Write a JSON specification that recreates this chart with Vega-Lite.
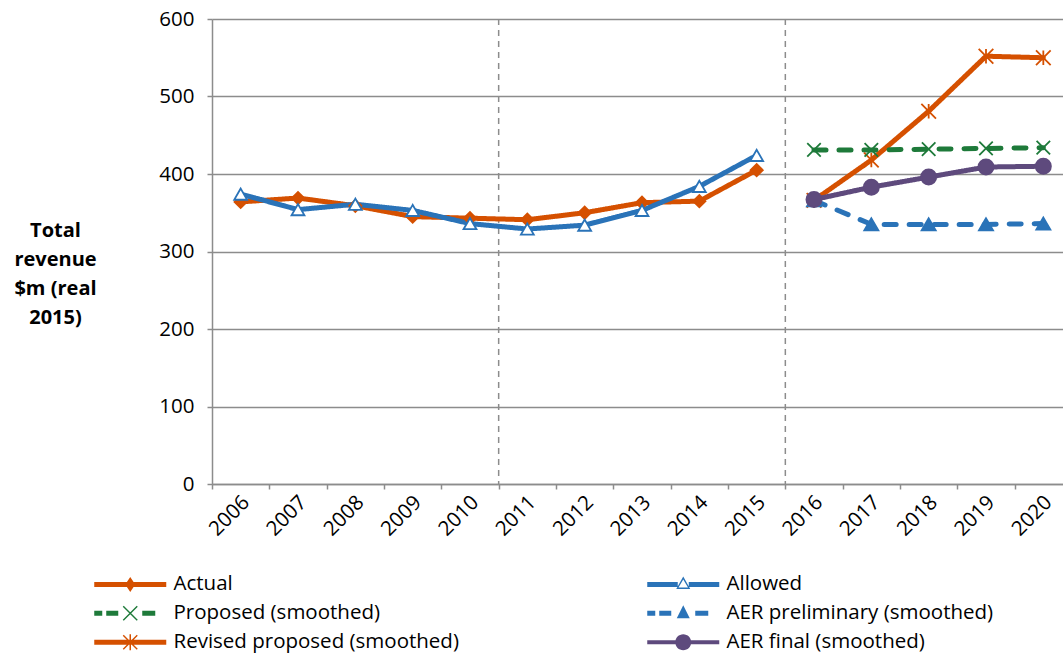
{
  "$schema": "https://vega.github.io/schema/vega-lite/v6.json",
  "width": 851,
  "height": 465,
  "autosize": "none",
  "padding": {"left": 212, "top": 19, "right": 0, "bottom": 171},
  "background": "white",
  "config": {
    "view": {"stroke": null},
    "font": "Open Sans",
    "axis": {"labelFont": "Open Sans", "labelFontSize": 20.5, "labelColor": "#000", "domainColor": "#8c8c8c", "domainWidth": 1.5, "tickColor": "#8c8c8c", "tickWidth": 1.5, "tickSize": 5},
    "legend": {"labelFont": "Open Sans", "labelFontSize": 20.5, "labelColor": "#000"}
  },
  "data": {"values": [
    {"year": "2006", "series": "Actual", "value": 364},
    {"year": "2007", "series": "Actual", "value": 369},
    {"year": "2008", "series": "Actual", "value": 359},
    {"year": "2009", "series": "Actual", "value": 345},
    {"year": "2010", "series": "Actual", "value": 343},
    {"year": "2011", "series": "Actual", "value": 341},
    {"year": "2012", "series": "Actual", "value": 350},
    {"year": "2013", "series": "Actual", "value": 363},
    {"year": "2014", "series": "Actual", "value": 365},
    {"year": "2015", "series": "Actual", "value": 405},
    {"year": "2006", "series": "Allowed", "value": 374},
    {"year": "2007", "series": "Allowed", "value": 354},
    {"year": "2008", "series": "Allowed", "value": 361},
    {"year": "2009", "series": "Allowed", "value": 353},
    {"year": "2010", "series": "Allowed", "value": 336},
    {"year": "2011", "series": "Allowed", "value": 329},
    {"year": "2012", "series": "Allowed", "value": 334},
    {"year": "2013", "series": "Allowed", "value": 353},
    {"year": "2014", "series": "Allowed", "value": 384},
    {"year": "2015", "series": "Allowed", "value": 424},
    {"year": "2016", "series": "Revised proposed (smoothed)", "value": 366},
    {"year": "2017", "series": "Revised proposed (smoothed)", "value": 418},
    {"year": "2018", "series": "Revised proposed (smoothed)", "value": 481},
    {"year": "2019", "series": "Revised proposed (smoothed)", "value": 552},
    {"year": "2020", "series": "Revised proposed (smoothed)", "value": 550},
    {"year": "2016", "series": "Proposed (smoothed)", "value": 431},
    {"year": "2017", "series": "Proposed (smoothed)", "value": 431},
    {"year": "2018", "series": "Proposed (smoothed)", "value": 432},
    {"year": "2019", "series": "Proposed (smoothed)", "value": 433},
    {"year": "2020", "series": "Proposed (smoothed)", "value": 434},
    {"year": "2016", "series": "AER preliminary (smoothed)", "value": 366},
    {"year": "2017", "series": "AER preliminary (smoothed)", "value": 335},
    {"year": "2018", "series": "AER preliminary (smoothed)", "value": 335},
    {"year": "2019", "series": "AER preliminary (smoothed)", "value": 335},
    {"year": "2020", "series": "AER preliminary (smoothed)", "value": 336},
    {"year": "2016", "series": "AER final (smoothed)", "value": 367},
    {"year": "2017", "series": "AER final (smoothed)", "value": 383},
    {"year": "2018", "series": "AER final (smoothed)", "value": 396},
    {"year": "2019", "series": "AER final (smoothed)", "value": 409},
    {"year": "2020", "series": "AER final (smoothed)", "value": 410}
  ]},
  "encoding": {
    "x": {"field": "year", "type": "ordinal", "scale": {"type": "band", "paddingInner": 0, "paddingOuter": 0, "range": [0, 860]},
      "axis": {"title": null, "labelAngle": -45, "tickBand": "extent", "labelPadding": 3, "labelOffset": -2, "grid": false}},
    "y": {"field": "value", "type": "quantitative", "scale": {"domain": [0, 600], "nice": false, "zero": true},
      "axis": {"values": [0, 100, 200, 300, 400, 500, 600], "grid": true, "gridColor": "#8c8c8c", "gridWidth": 1.5, "labelPadding": 13,
        "title": ["Total", "revenue", "$m (real", "2015)"], "titleAngle": 0, "titleFontWeight": "bold", "titleFontSize": 20, "titleFont": "Open Sans", "titleColor": "#000",
        "titleAlign": "center", "titleBaseline": "middle", "titleLineHeight": 29, "titleX": -157, "titleY": 211}}
  },
  "layer": [
    {
      "data": {"values": [{"year": "2011"}, {"year": "2016"}]},
      "mark": {"type": "rule", "color": "#8c8c8c", "strokeWidth": 1.5, "strokeDash": [6, 5]},
      "encoding": {"x": {"field": "year", "type": "ordinal", "bandPosition": 0}, "y": null}
    },
    {
      "mark": {"type": "line", "strokeWidth": 5, "strokeCap": "round", "strokeJoin": "round"},
      "encoding": {
        "color": {"field": "series", "type": "nominal", "legend": null,
          "scale": {"domain": ["Actual", "Allowed", "Proposed (smoothed)", "AER preliminary (smoothed)", "Revised proposed (smoothed)", "AER final (smoothed)"],
            "range": ["#d55000", "#2a73b8", "#1e7a3a", "#2a73b8", "#d55000", "#5e4a7d"]}},
        "strokeDash": {"field": "series", "type": "nominal", "legend": null,
          "scale": {"domain": ["Actual", "Allowed", "Proposed (smoothed)", "AER preliminary (smoothed)", "Revised proposed (smoothed)", "AER final (smoothed)"],
            "range": [[1, 0], [1, 0], [12, 13], [12, 13], [1, 0], [1, 0]]}}
      }
    },
    {
      "mark": {"type": "point", "strokeWidth": 1.8, "opacity": 1},
      "encoding": {
        "shape": {"field": "series", "type": "nominal", "legend": null,
          "scale": {"domain": ["Actual", "Allowed", "Proposed (smoothed)", "AER preliminary (smoothed)", "Revised proposed (smoothed)", "AER final (smoothed)"],
            "range": ["diamond", "triangle-up", "M-1,-1L1,1M1,-1L-1,1", "triangle-up", "M-1,-1L1,1M1,-1L-1,1M0,-1L0,1", "circle"]}},
        "stroke": {"field": "series", "type": "nominal", "legend": null,
          "scale": {"domain": ["Actual", "Allowed", "Proposed (smoothed)", "AER preliminary (smoothed)", "Revised proposed (smoothed)", "AER final (smoothed)"],
            "range": ["#d55000", "#2a73b8", "#1e7a3a", "#2a73b8", "#d55000", "#5e4a7d"]}},
        "fill": {"field": "series", "type": "nominal", "legend": null,
          "scale": {"domain": ["Actual", "Allowed", "Proposed (smoothed)", "AER preliminary (smoothed)", "Revised proposed (smoothed)", "AER final (smoothed)"],
            "range": ["#d55000", "#ffffff", "transparent", "#2a73b8", "transparent", "#5e4a7d"]}},
        "size": {"field": "series", "type": "nominal", "legend": null,
          "scale": {"domain": ["Actual", "Allowed", "Proposed (smoothed)", "AER preliminary (smoothed)", "Revised proposed (smoothed)", "AER final (smoothed)"],
            "range": [150, 230, 300, 300, 310, 400]}}
      }
    },
    {
      "transform": [{"filter": "false"}],
      "mark": {"type": "point", "filled": true, "opacity": 1},
      "encoding": {
        "shape": {"field": "series", "type": "nominal",
          "scale": {"domain": ["Actual", "Allowed", "Proposed (smoothed)", "AER preliminary (smoothed)", "Revised proposed (smoothed)", "AER final (smoothed)"],
            "range": [
              "M-7.2,-0.5H7.2V0.5H-7.2Z M0,-1.5L1,0L0,1.5L-1,0Z",
              "M-7.2,-0.5H-1.1V0.5H-7.2Z M1.1,-0.5H7.2V0.5H1.1Z M0,-1.6L1.4,0.9L-1.4,0.9Z M0,-1.0L-0.95,0.6L0.95,0.6Z",
              "M-7.2,-0.5H-5.6V0.5H-7.2Z M-4.8,-0.5H-2.4V0.5H-4.8Z M2.4,-0.5H5V0.5H2.4Z M-1.5,-1.3L-1.3,-1.5L1.5,1.3L1.3,1.5Z M1.3,-1.5L1.5,-1.3L-1.3,1.5L-1.5,1.3Z",
              "M-7.2,-0.5H-5.6V0.5H-7.2Z M-4.8,-0.5H-2.4V0.5H-4.8Z M2.4,-0.5H5V0.5H2.4Z M0,-1.6L1.3,1.0L-1.3,1.0Z",
              "M-7.2,-0.5H7.2V0.5H-7.2Z M-1.5,-1.3L-1.3,-1.5L1.5,1.3L1.3,1.5Z M1.3,-1.5L1.5,-1.3L-1.3,1.5L-1.5,1.3Z M-0.15,-1.6H0.15V1.6H-0.15Z",
              "M-7.2,-0.4H7.2V0.4H-7.2Z M-1.6,0A1.6,1.6 0 1,1 1.6,0A1.6,1.6 0 1,1 -1.6,0Z"
            ]},
          "legend": {"title": null, "orient": "none", "direction": "horizontal", "legendX": -92, "legendY": 555, "columns": 2, "columnPadding": 188, "rowPadding": 8,
            "symbolSize": 100, "symbolStrokeWidth": 0, "labelOffset": 33, "padding": 0, "labelLimit": 400}},
        "fill": {"field": "series", "type": "nominal",
          "scale": {"domain": ["Actual", "Allowed", "Proposed (smoothed)", "AER preliminary (smoothed)", "Revised proposed (smoothed)", "AER final (smoothed)"],
            "range": ["#d55000", "#2a73b8", "#1e7a3a", "#2a73b8", "#d55000", "#5e4a7d"]},
          "legend": {"title": null, "orient": "none", "direction": "horizontal", "legendX": -92, "legendY": 555, "columns": 2, "columnPadding": 188, "rowPadding": 8,
            "symbolSize": 100, "symbolStrokeWidth": 0, "labelOffset": 33, "padding": 0, "labelLimit": 400}}
      }
    }
  ],
  "resolve": {"scale": {"shape": "independent", "fill": "independent"}}
}
